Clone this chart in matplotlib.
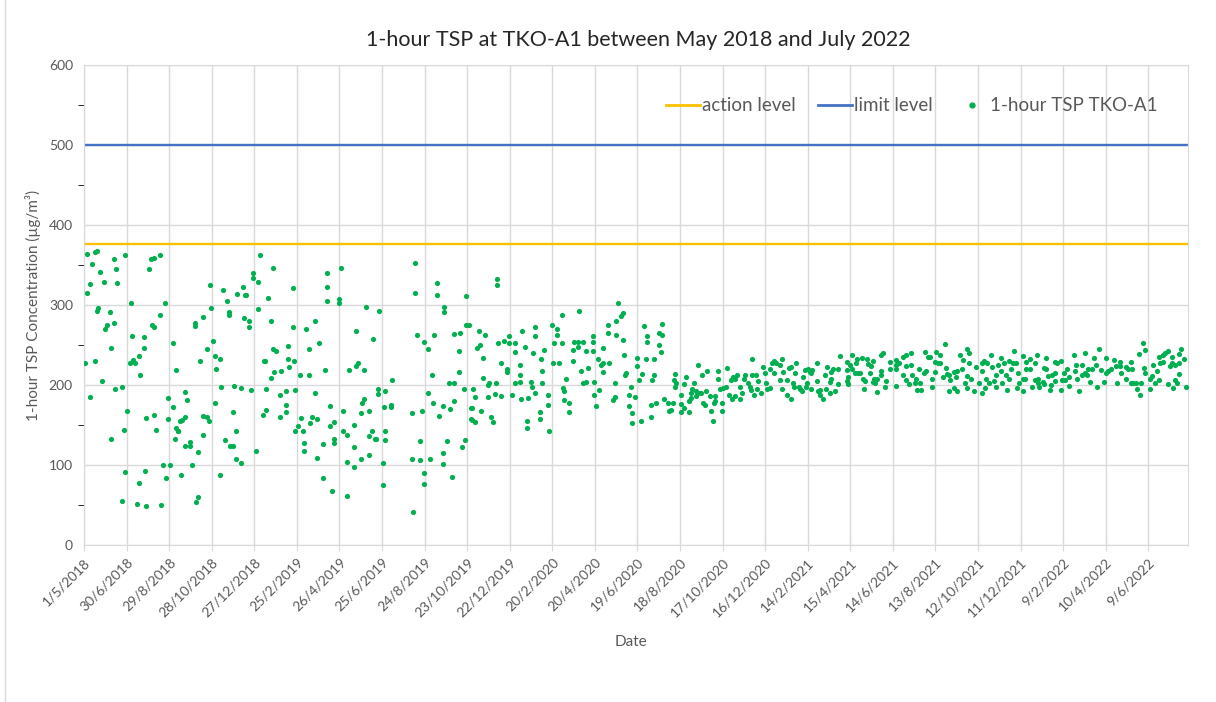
import numpy as np
import matplotlib
matplotlib.use("Agg")
import matplotlib.pyplot as plt
from matplotlib.lines import Line2D

plt.rcParams['font.family'] = ['Lato', 'DejaVu Sans']

# days after 1/5/2018 and 1-hour TSP readings (ug/m3)
early_days = [4, 11, 16, 18, 8, 4, 23, 28, 42, 45, 46, 58, 66, 91, 95, 99, 107, 114, 107, 20,
              18, 36, 32, 30, 42, 38, 68, 84, 84, 96, 99, 126, 2, 15, 77, 69, 72, 65, 79, 129,
              25, 9, 43, 53, 60, 88, 99, 102, 56, 38, 119, 126, 119, 129, 133, 128, 112, 121, 58, 86,
              77, 116, 53, 74, 88, 109,
              248, 267, 238, 238, 245, 178, 196, 224, 216, 227, 229, 201, 260, 179, 245, 204, 204, 168, 226, 233,
              233, 263, 156, 156, 182, 173, 163, 184, 191, 186, 253, 255, 267, 270, 268, 263, 193, 212, 221, 235,
              256, 143, 145, 184, 210, 256, 252, 142, 138, 136, 168, 173, 176, 133, 168, 214, 199, 149, 150, 143,
              206, 210, 161, 242, 214, 221, 152, 137, 191, 161, 158,
              362, 343, 343, 342, 359, 359, 294, 397, 325, 313, 295, 383, 408, 331, 317, 288, 288, 289, 296, 278,
              305, 317, 339, 373, 386, 383, 395, 298, 285, 326, 276, 285, 285, 276, 347, 365, 394, 392, 390, 401,
              306, 301, 298, 309, 322, 319, 329, 353, 347, 381, 365, 370, 353, 353, 337, 310, 310, 401, 406, 410,
              381, 401, 329, 371, 380, 390, 337, 350, 371,
              466, 466, 497, 497, 539, 507, 507, 416, 539, 542, 469, 494, 522, 530, 479, 485, 528, 528, 491, 434,
              515, 521, 414, 414, 424, 485, 535, 548, 492, 506, 521, 432, 432, 423, 477, 500, 516, 546, 546, 462,
              424, 424, 411, 474, 511, 537, 533, 506, 506, 462, 474, 488, 421, 479, 479, 519, 421, 464,
              582, 582, 673, 659, 666, 666, 663, 673, 557, 565, 558, 554, 618, 635, 635, 599, 599, 607, 592, 584,
              607, 621, 633, 649, 644, 563, 588, 596, 596, 614, 614, 646, 661, 669, 562, 569, 571, 581, 607, 614,
              630, 631, 646, 680, 675, 677, 551, 569, 579, 588, 603, 616, 626, 635, 654, 654, 677, 684, 547, 551,
              547, 560, 574, 577, 643, 643, 624, 624, 656, 684,
              752, 698, 759, 757, 750, 738, 738, 750, 759, 789, 793, 793, 810, 815, 815, 810, 813, 691, 696, 704,
              717, 717, 689, 696, 708, 717, 731, 761, 689, 725, 729, 731, 740, 780, 780, 792, 804, 701, 710, 731,
              762, 764, 787, 782, 801, 804, 703, 708, 719, 726, 748, 771, 776, 768, 833, 832, 835, 833, 719, 722,
              748, 745, 768, 773, 773, 785, 799, 799, 806, 817, 823, 830, 824, 827]
early_tsp = [364, 351, 366, 368, 326, 315, 341, 329, 357, 345, 327, 363, 303, 345, 357, 359, 363, 303, 288, 296,
             293, 291, 275, 270, 277, 246, 261, 260, 246, 275, 273, 253, 227, 230, 236, 231, 227, 227, 213, 219,
             205, 185, 195, 198, 167, 159, 162, 144, 144, 133, 184, 173, 158, 146, 143, 133, 100, 100, 91, 92,
             77, 84, 55, 51, 49, 50,
             362, 346, 340, 334, 329, 325, 319, 322, 314, 312, 312, 305, 309, 296, 295, 291, 287, 285, 284, 280,
             273, 280, 278, 274, 255, 245, 230, 236, 232, 220, 230, 230, 245, 242, 216, 209, 197, 199, 196, 194,
             195, 191, 181, 178, 166, 169, 163, 160, 156, 155, 161, 160, 155, 143, 138, 142, 131, 129, 124, 124,
             124, 124, 116, 118, 108, 103, 100, 87, 88, 60, 54,
             346, 340, 323, 305, 308, 303, 321, 297, 280, 270, 272, 268, 257, 253, 245, 249, 233, 222, 230, 218,
             212, 212, 219, 219, 228, 224, 219, 194, 192, 190, 187, 175, 166, 160, 174, 167, 182, 177, 165, 168,
             159, 149, 143, 143, 160, 153, 157, 154, 149, 150, 143, 137, 133, 127, 126, 127, 118, 136, 143, 133,
             122, 113, 109, 104, 98, 107, 84, 67, 61,
             352, 315, 327, 312, 311, 298, 291, 292, 275, 275, 263, 263, 264, 265, 254, 245, 243, 216, 212, 206,
             202, 202, 195, 189, 192, 190, 195, 195, 178, 174, 180, 175, 172, 173, 168, 161, 170, 171, 157, 165,
             142, 131, 133, 130, 130, 131, 123, 115, 101, 107, 106, 108, 102, 90, 76, 85, 75, 41,
             333, 325, 288, 275, 270, 262, 253, 252, 267, 263, 250, 246, 267, 272, 261, 261, 253, 253, 255, 252,
             241, 248, 240, 244, 233, 234, 228, 220, 216, 225, 213, 217, 227, 228, 209, 200, 203, 202, 202, 204,
             204, 197, 202, 207, 196, 193, 185, 185, 189, 186, 187, 183, 184, 190, 187, 175, 181, 178, 171, 154,
             156, 168, 160, 154, 166, 157, 155, 146, 143, 166,
             303, 293, 290, 286, 280, 275, 265, 262, 256, 274, 261, 254, 265, 276, 263, 250, 241, 254, 254, 254,
             261, 254, 244, 247, 242, 242, 246, 237, 230, 232, 225, 227, 227, 234, 224, 233, 233, 218, 221, 216,
             213, 215, 214, 206, 206, 213, 202, 204, 204, 194, 202, 197, 185, 187, 214, 206, 203, 198, 187, 174,
             185, 181, 174, 165, 153, 155, 160, 175, 178, 183, 177, 177, 168, 169]

late_days = [848, 845, 841, 842, 845, 841, 853, 853, 856, 855, 857, 860, 862, 865, 869, 863, 866, 871, 878, 876,
             872, 875, 883, 890, 884, 886, 888, 890, 899, 899, 894, 894, 897, 900, 906, 905, 909, 914, 912, 915,
             917, 920, 918, 925, 928, 925, 930, 932, 936, 938, 941, 942, 945, 940, 947, 950, 948, 957, 960, 961,
             954, 962, 967, 970, 972, 975, 973, 967, 981, 984, 985, 981, 984, 991, 993, 996, 999, 1001, 1004, 1002,
             991, 997, 1009, 1012, 1014, 1008, 1017, 1016,
             1020, 1023, 1026, 1025, 1019, 1024, 1033, 1033, 1035, 1038, 1038, 1041, 1046, 1044, 1047, 1051, 1051, 1053, 1053, 1056,
             1058, 1063, 1063, 1066, 1075, 1075, 1077, 1075, 1077, 1080, 1082, 1083, 1086, 1089, 1088, 1091, 1094, 1096, 1098, 1101,
             1100, 1103, 1105, 1109, 1112, 1108, 1113, 1112, 1115, 1118, 1118, 1124, 1126, 1123, 1123, 1131, 1136, 1136, 1129, 1145,
             1144, 1145, 1144, 1149, 1155, 1159, 1165, 1159, 1154, 1159, 1163, 1165, 1167, 1173, 1171, 1174, 1180, 1178, 1177, 1186,
             1189, 1192, 1187, 1195, 1195, 1184,
             1201, 1207, 1213, 1200, 1203, 1207, 1199, 1210, 1215, 1217, 1219, 1221, 1219, 1226, 1229, 1226, 1231, 1231, 1234, 1239,
             1244, 1248, 1238, 1241, 1245, 1245, 1248, 1250, 1255, 1257, 1262, 1265, 1266, 1266, 1269, 1271, 1270, 1273, 1276, 1279,
             1280, 1283, 1285, 1285, 1288, 1292, 1293, 1294, 1296, 1299, 1301, 1304, 1304, 1307, 1311, 1310, 1314, 1316, 1315, 1318,
             1323, 1324, 1324, 1326, 1328, 1328, 1334, 1334, 1336, 1340, 1343, 1341, 1344, 1345, 1346, 1351, 1353, 1353, 1356, 1356,
             1361, 1358, 1363, 1365, 1368, 1369, 1372, 1377, 1377, 1378, 1369,
             1381, 1383, 1385, 1388, 1388, 1395, 1398, 1397, 1400, 1402, 1406, 1411, 1411, 1407, 1414, 1415, 1418, 1420, 1423, 1426,
             1428, 1430, 1433, 1437, 1441, 1440, 1443, 1448, 1452, 1454, 1456, 1460, 1460, 1462, 1468, 1468, 1475, 1475, 1472, 1477,
             1479, 1483, 1484, 1487, 1489, 1490, 1492, 1495, 1494, 1495, 1502, 1503, 1505, 1507, 1510, 1513, 1515, 1517, 1515, 1521,
             1521, 1524, 1528, 1528, 1530, 1533, 1533, 1537, 1538, 1540, 1535, 1543, 1544, 1544, 1546, 1551, 1553]
late_tsp = [210, 201, 187, 176, 171, 166, 166, 180, 184, 190, 195, 203, 193, 190, 190, 186, 225, 212, 218, 193,
            178, 175, 186, 186, 167, 155, 178, 180, 178, 167, 218, 207, 195, 196, 221, 197, 187, 183, 206, 210,
            207, 213, 186, 183, 190, 197, 207, 213, 202, 198, 232, 212, 188, 194, 213, 205, 195, 223, 215, 203,
            190, 195, 196, 227, 230, 228, 215, 220, 225, 233, 216, 206, 195, 206, 221, 223, 202, 197, 228, 215,
            187, 183, 195, 192, 210, 198, 197, 219,
            220, 216, 219, 215, 202, 195, 228, 205, 193, 194, 187, 182, 195, 213, 222, 190, 204, 216, 207, 220,
            193, 220, 201, 236, 229, 219, 210, 205, 201, 225, 238, 220, 215, 232, 228, 215, 215, 234, 207, 205,
            195, 232, 226, 224, 230, 215, 207, 204, 203, 208, 191, 237, 240, 218, 213, 205, 229, 220, 198, 231,
            225, 220, 199, 228, 235, 238, 240, 224, 213, 206, 201, 225, 213, 207, 202, 194, 194, 203, 220, 241,
            235, 235, 218, 208, 197, 215,
            241, 238, 251, 229, 228, 227, 216, 210, 221, 214, 212, 206, 193, 216, 210, 196, 193, 217, 238, 231,
            245, 240, 220, 203, 211, 196, 227, 207, 193, 222, 203, 190, 228, 217, 230, 208, 196, 227, 202, 237,
            223, 205, 213, 197, 225, 234, 218, 202, 228, 213, 194, 230, 207, 220, 243, 228, 228, 215, 196, 203,
            236, 208, 192, 207, 229, 220, 232, 220, 197, 227, 237, 206, 208, 202, 198, 204, 201, 221, 234, 220,
            194, 211, 200, 213, 215, 229, 227, 230, 194, 206, 205,
            215, 206, 220, 210, 199, 237, 225, 217, 208, 192, 225, 240, 215, 213, 213, 220, 204, 220, 234, 225,
            198, 245, 219, 204, 234, 215, 217, 220, 231, 224, 203, 229, 224, 215, 223, 208, 229, 202, 220, 220,
            202, 203, 195, 239, 187, 202, 253, 244, 221, 215, 207, 195, 211, 225, 202, 218, 235, 228, 206, 238,
            229, 240, 242, 201, 224, 235, 228, 225, 206, 203, 196, 239, 228, 214, 245, 232, 197]

action_level = 376
limit_level = 500

start = np.datetime64("2018-05-01")
axis_end_day = 1556
tick_step = 60

days = np.array(early_days + late_days)
tsp = np.array(early_tsp + late_tsp)
dates = start + days.astype("timedelta64[D]")

fig = plt.figure(figsize=(12.16, 7.02), dpi=100)
ax = fig.add_axes([84 / 1216, 1 - 545 / 702, 1104 / 1216, 480 / 702])

ax.axhline(action_level, color="#FFC000", lw=1.7, zorder=2)
ax.axhline(limit_level, color="#4472C4", lw=1.7, zorder=2)
ax.scatter(dates, tsp, s=14, color="#00B050", linewidths=0, zorder=3)

ax.set_ylim(0, 600)
ax.set_yticks(np.arange(0, 601, 100))
ax.set_yticks(np.arange(50, 600, 100), minor=True)
ax.set_xlim(start, start + np.timedelta64(axis_end_day, "D"))
ticks = start + np.arange(0, axis_end_day, tick_step).astype("timedelta64[D]")
ax.set_xticks(ticks)
ax.set_xticklabels([f"{d.day}/{d.month}/{d.year}" for d in ticks.astype(object)],
                   rotation=45, ha="right", va="top", rotation_mode="anchor")

ax.grid(True, color="#D9D9D9", lw=1)
ax.set_axisbelow(True)
for s in ax.spines.values():
    s.set_color("#D9D9D9")
ax.tick_params(axis="both", colors="#D9D9D9", labelcolor="#595959", labelsize=10)
ax.tick_params(axis="x", direction="inout", length=8, pad=4)
ax.tick_params(axis="y", which="major", length=0, pad=8)
ax.tick_params(axis="y", which="minor", length=4, direction="out")

fig.text(0.5247, 0.943, "1-hour TSP at TKO-A1 between May 2018 and July 2022",
         ha="center", va="center", fontsize=15.5, color="#262626")
fig.text(0.519, 0.0855, "Date", ha="center", va="center", fontsize=11, color="#595959")
fig.text(0.027, 0.5655, "1-hour TSP Concentration (µg/m³)", ha="center", va="center",
         rotation=90, fontsize=11, color="#595959")

# thin chart-area border on the left, as in the source
fig.add_artist(Line2D([5 / 1216, 5 / 1216], [0, 1], color="#D9D9D9", lw=1))

handles = [Line2D([], [], color="#FFC000", lw=2),
           Line2D([], [], color="#4472C4", lw=2),
           Line2D([], [], color="#00B050", marker="o", ls="", markersize=3.5)]
ax.legend(handles, ["action level", "limit level", "1-hour TSP TKO-A1"], ncol=3,
          loc="center", bbox_to_anchor=(0.75, 0.915), frameon=False, fontsize=13.5,
          labelcolor="#595959", handlelength=1.8, handletextpad=0.1, columnspacing=1.2)

fig.savefig("out.png", dpi=100)
